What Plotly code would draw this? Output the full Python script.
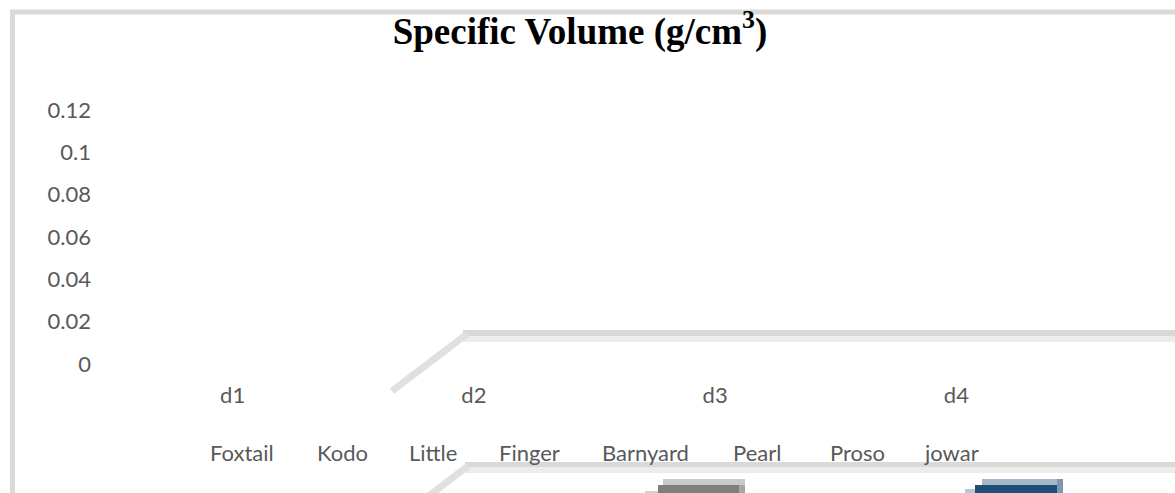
import plotly.graph_objects as go

W, H = 1175, 493

categories = ["d1", "d2", "d3", "d4"]
series_names = ["Foxtail", "Kodo", "Little", "Finger", "Barnyard", "Pearl", "Proso", "jowar"]
# No bars are visible in the reference: every value reads as 0
foxtail = [0, 0, 0, 0]
kodo = [0, 0, 0, 0]
little = [0, 0, 0, 0]
finger = [0, 0, 0, 0]
barnyard = [0, 0, 0, 0]
pearl = [0, 0, 0, 0]
proso = [0, 0, 0, 0]
jowar = [0, 0, 0, 0]
series_values = [foxtail, kodo, little, finger, barnyard, pearl, proso, jowar]

y_ticks = [0, 0.02, 0.04, 0.06, 0.08, 0.1, 0.12]

# left edge (px) of each legend label in the reference
legend_text_x = [210, 317, 409, 499, 602, 733, 830, 925]


def px(x):
    return x / W


def py(y):
    return 1 - y / H


tick_font = dict(family="Lato", size=22, color="#595959")

fig = go.Figure()
legends = {}
for i, (name, vals) in enumerate(zip(series_names, series_values)):
    key = f"legend{i + 2}"
    fig.add_trace(go.Bar(x=categories, y=vals, name=name, legend=key, showlegend=True,
                         marker=dict(color="rgba(0,0,0,0)", line=dict(width=0))))
    legends[key] = dict(orientation="h", x=px(legend_text_x[i] - 40), xanchor="left",
                        y=py(453), yanchor="middle", font=tick_font,
                        bgcolor="rgba(0,0,0,0)", itemwidth=30, visible=True)

shapes = []
# outer chart frame (light gray border)
shapes.append(dict(type="rect", xref="paper", yref="paper",
                   x0=px(12.5), x1=px(1200), y0=py(12), y1=py(520),
                   line=dict(color="#d9d9d9", width=5), fillcolor="rgba(0,0,0,0)", layer="below"))


def rect(x0, x1, y0, y1, color):
    return dict(type="rect", xref="paper", yref="paper",
                x0=px(x0), x1=px(x1), y0=py(y0), y1=py(y1),
                line=dict(width=0), fillcolor=color, layer="below")


def line(x0, y0, x1, y1, color, w):
    return dict(type="line", xref="paper", yref="paper",
                x0=px(x0), x1=px(x1), y0=py(y0), y1=py(y1),
                line=dict(color=color, width=w), layer="below")


# 3D floor remnants
shapes.append(rect(463, 1180, 330, 336, "#d9d9d9"))
shapes.append(rect(463, 1180, 336, 342, "#ececec"))
shapes.append(line(467, 334, 392, 391, "#e0e0e0", 7))
shapes.append(rect(465, 1180, 462, 467, "#d9d9d9"))
shapes.append(rect(465, 1180, 467, 473, "#ececec"))
shapes.append(line(468, 466, 426, 498, "#e0e0e0", 7))
# fragments of the chart below
shapes.append(rect(663, 745, 479, 485, "#c9c9c9"))
shapes.append(rect(658, 739, 485, 495, "#7f7f7f"))
shapes.append(rect(739, 745, 485, 495, "#a6a6a6"))
shapes.append(rect(645, 658, 491, 495, "#d0d0d0"))
shapes.append(rect(982, 1057, 479, 485, "#a7b7c9"))
shapes.append(rect(975, 1057, 485, 495, "#1f4e79"))
shapes.append(rect(1057, 1063, 479, 495, "#8096ae"))
shapes.append(rect(965, 975, 489, 495, "#b8c6d5"))

fig.update_layout(
    width=W, height=H, autosize=False,
    margin=dict(l=0, r=0, t=0, b=0, autoexpand=False),
    paper_bgcolor="white", plot_bgcolor="rgba(0,0,0,0)",
    barmode="group", showlegend=True,
    title=dict(text="<b>Specific Volume (g/cm<sup>3</sup>)</b>",
               font=dict(family="Liberation Serif", size=37, color="black"),
               x=px(580), xanchor="center", y=py(31), yanchor="middle"),
    xaxis=dict(domain=[px(112), px(1077)], showline=False, showgrid=False,
               zeroline=False, ticks="", tickfont=tick_font, ticklabelstandoff=16,
               automargin=False),
    yaxis=dict(domain=[py(364), py(110)], range=[0, 0.12], tickvals=y_ticks,
               showline=False, showgrid=False, zeroline=False, ticks="",
               tickfont=tick_font, ticklabelstandoff=20, automargin=False),
    shapes=shapes,
    **legends,
)

fig.write_html("out.html")
